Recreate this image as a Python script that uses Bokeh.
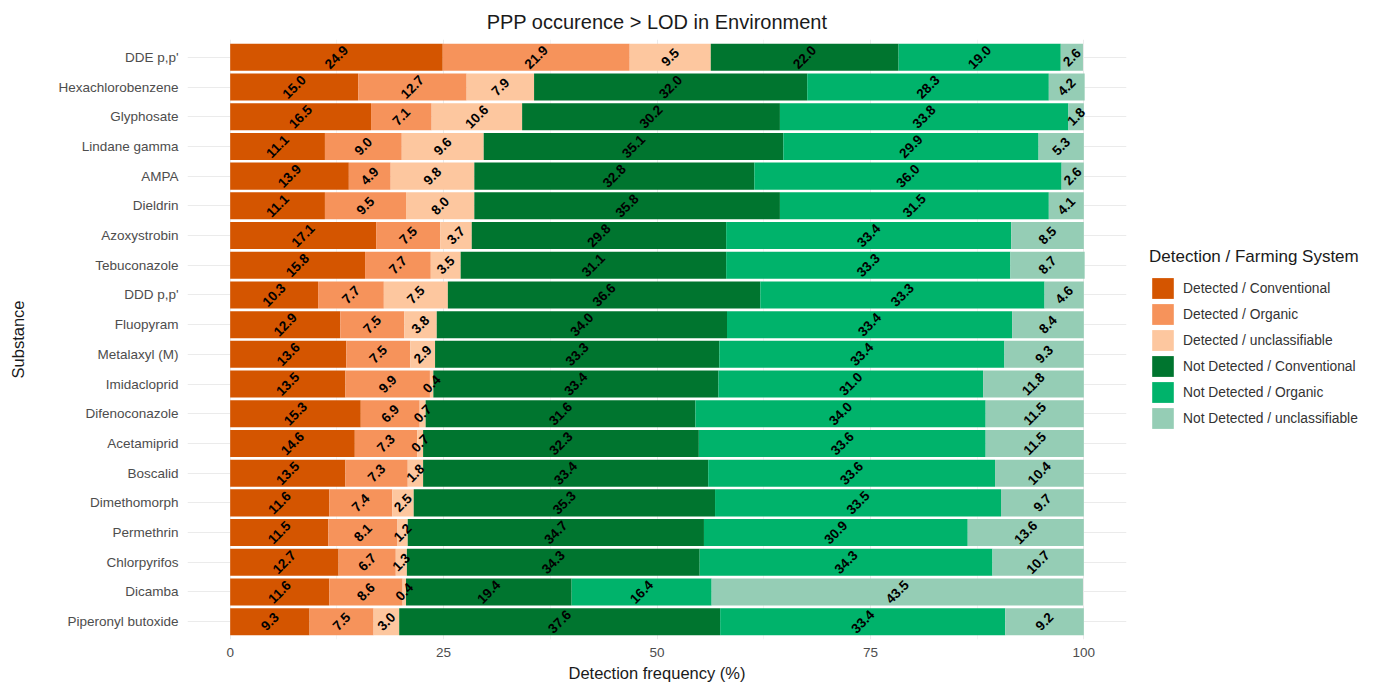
import numpy as np
from bokeh.plotting import figure
from bokeh.models import (ColumnDataSource, FactorRange, FixedTicker, Legend, LegendItem, Range1d)
from bokeh.core.properties import value
from bokeh.embed import file_html
from bokeh.resources import INLINE

substances = ["DDE p,p'", "Hexachlorobenzene", "Glyphosate", "Lindane gamma", "AMPA", "Dieldrin",
              "Azoxystrobin", "Tebuconazole", "DDD p,p'", "Fluopyram", "Metalaxyl (M)", "Imidacloprid",
              "Difenoconazole", "Acetamiprid", "Boscalid", "Dimethomorph", "Permethrin", "Chlorpyrifos",
              "Dicamba", "Piperonyl butoxide"]

det_conv = [24.9, 15.0, 16.5, 11.1, 13.9, 11.1, 17.1, 15.8, 10.3, 12.9, 13.6, 13.5, 15.3, 14.6, 13.5, 11.6, 11.5, 12.7, 11.6, 9.3]
det_org = [21.9, 12.7, 7.1, 9.0, 4.9, 9.5, 7.5, 7.7, 7.7, 7.5, 7.5, 9.9, 6.9, 7.3, 7.3, 7.4, 8.1, 6.7, 8.6, 7.5]
det_unc = [9.5, 7.9, 10.6, 9.6, 9.8, 8.0, 3.7, 3.5, 7.5, 3.8, 2.9, 0.4, 0.7, 0.7, 1.8, 2.5, 1.2, 1.3, 0.4, 3.0]
nd_conv = [22.0, 32.0, 30.2, 35.1, 32.8, 35.8, 29.8, 31.1, 36.6, 34.0, 33.3, 33.4, 31.6, 32.3, 33.4, 35.3, 34.7, 34.3, 19.4, 37.6]
nd_org = [19.0, 28.3, 33.8, 29.9, 36.0, 31.5, 33.4, 33.3, 33.3, 33.4, 33.4, 31.0, 34.0, 33.6, 33.6, 33.5, 30.9, 34.3, 16.4, 33.4]
nd_unc = [2.6, 4.2, 1.8, 5.3, 2.6, 4.1, 8.5, 8.7, 4.6, 8.4, 9.3, 11.8, 11.5, 11.5, 10.4, 9.7, 13.6, 10.7, 43.5, 9.2]

group_names = ["Detected / Conventional", "Detected / Organic", "Detected / unclassifiable",
               "Not Detected / Conventional", "Not Detected / Organic", "Not Detected / unclassifiable"]
x_ticks = [0, 25, 50, 75, 100]
x_minor = [12.5, 37.5, 62.5, 87.5]

colors = ["#D45500", "#F6935B", "#FDC79F", "#00752F", "#00B36B", "#95CDB5"]
keys = ["dc", "do", "du", "nc", "no", "nu"]
series = [det_conv, det_org, det_unc, nd_conv, nd_org, nd_unc]

data = {"substance": substances}
for k, s in zip(keys, series):
    data[k] = s
source = ColumnDataSource(data)

FONT = "Liberation Sans"

p = figure(y_range=FactorRange(factors=list(reversed(substances)), range_padding=0.1,
                               range_padding_units="absolute"),
           x_range=Range1d(-5, 105),
           frame_width=939, frame_height=600,
           min_border_left=187, min_border_top=39, min_border_bottom=40, min_border_right=242,
           output_backend="svg", toolbar_location=None,
           title="PPP occurence > LOD in Environment")
p.outline_line_color = None
p.background_fill_color = "white"

renderers = p.hbar_stack(keys, y="substance", height=0.91, color=colors, source=source, line_color=None)

# label positions at segment centers
arr = np.array(series)  # 6 x 20
cum = np.cumsum(arr, axis=0)
centers = cum - arr / 2.0
lx, ly, lt = [], [], []
for i in range(arr.shape[0]):
    for j in range(arr.shape[1]):
        lx.append(float(centers[i, j]))
        ly.append(substances[j])
        lt.append(f"{arr[i, j]:.1f}")
p.text(x=lx, y=ly, text=lt, angle=np.pi / 4, text_align="center", text_baseline="middle",
       text_font=value(FONT), text_font_size="13.5px", text_color="black", text_font_style="bold")

legend = Legend(items=[LegendItem(label=n, renderers=[r]) for n, r in zip(group_names, renderers)])
legend.title = "Detection / Farming System"
legend.title_text_font = FONT
legend.title_text_font_size = "17px"
legend.title_text_color = "#1a1a1a"
legend.title_text_font_style = "normal"
legend.title_standoff = 8
legend.label_text_font = FONT
legend.label_text_font_size = "13.8px"
legend.label_text_color = "#333333"
legend.glyph_width = 27
legend.glyph_height = 26
legend.label_height = 26
legend.spacing = 0
legend.label_standoff = 7
legend.padding = 2
legend.margin = 0
legend.border_line_color = None
legend.background_fill_alpha = 0
legend.location = (23, 208)
p.add_layout(legend, "right")

p.title.text_font = FONT
p.title.text_font_size = "20px"
p.title.text_font_style = "normal"
p.title.text_color = "#1a1a1a"
p.title.align = "center"
p.title.standoff = 14

p.xaxis.ticker = FixedTicker(ticks=x_ticks, minor_ticks=x_minor)
p.xaxis.axis_label = "Detection frequency (%)"
p.yaxis.axis_label = "Substance"
for ax in (p.xaxis, p.yaxis):
    ax.axis_line_color = None
    ax.major_tick_line_color = None
    ax.minor_tick_line_color = None
    ax.major_label_text_font = FONT
    ax.major_label_text_font_size = "13.5px"
    ax.major_label_text_color = "#4d4d4d"
    ax.axis_label_text_font = FONT
    ax.axis_label_text_font_size = "16.5px"
    ax.axis_label_text_font_style = "normal"
    ax.axis_label_text_color = "#1a1a1a"
p.xaxis.major_label_standoff = 2
p.xaxis.axis_label_standoff = 4
p.yaxis.major_label_standoff = 3
p.yaxis.axis_label_standoff = 28

p.xgrid.grid_line_color = "#ebebeb"
p.xgrid.grid_line_width = 1
p.xgrid.minor_grid_line_color = "#f4f4f4"
p.xgrid.minor_grid_line_width = 1
p.ygrid.grid_line_color = "#ebebeb"
p.ygrid.grid_line_width = 1

open("out.html", "w").write(file_html(p, INLINE))
